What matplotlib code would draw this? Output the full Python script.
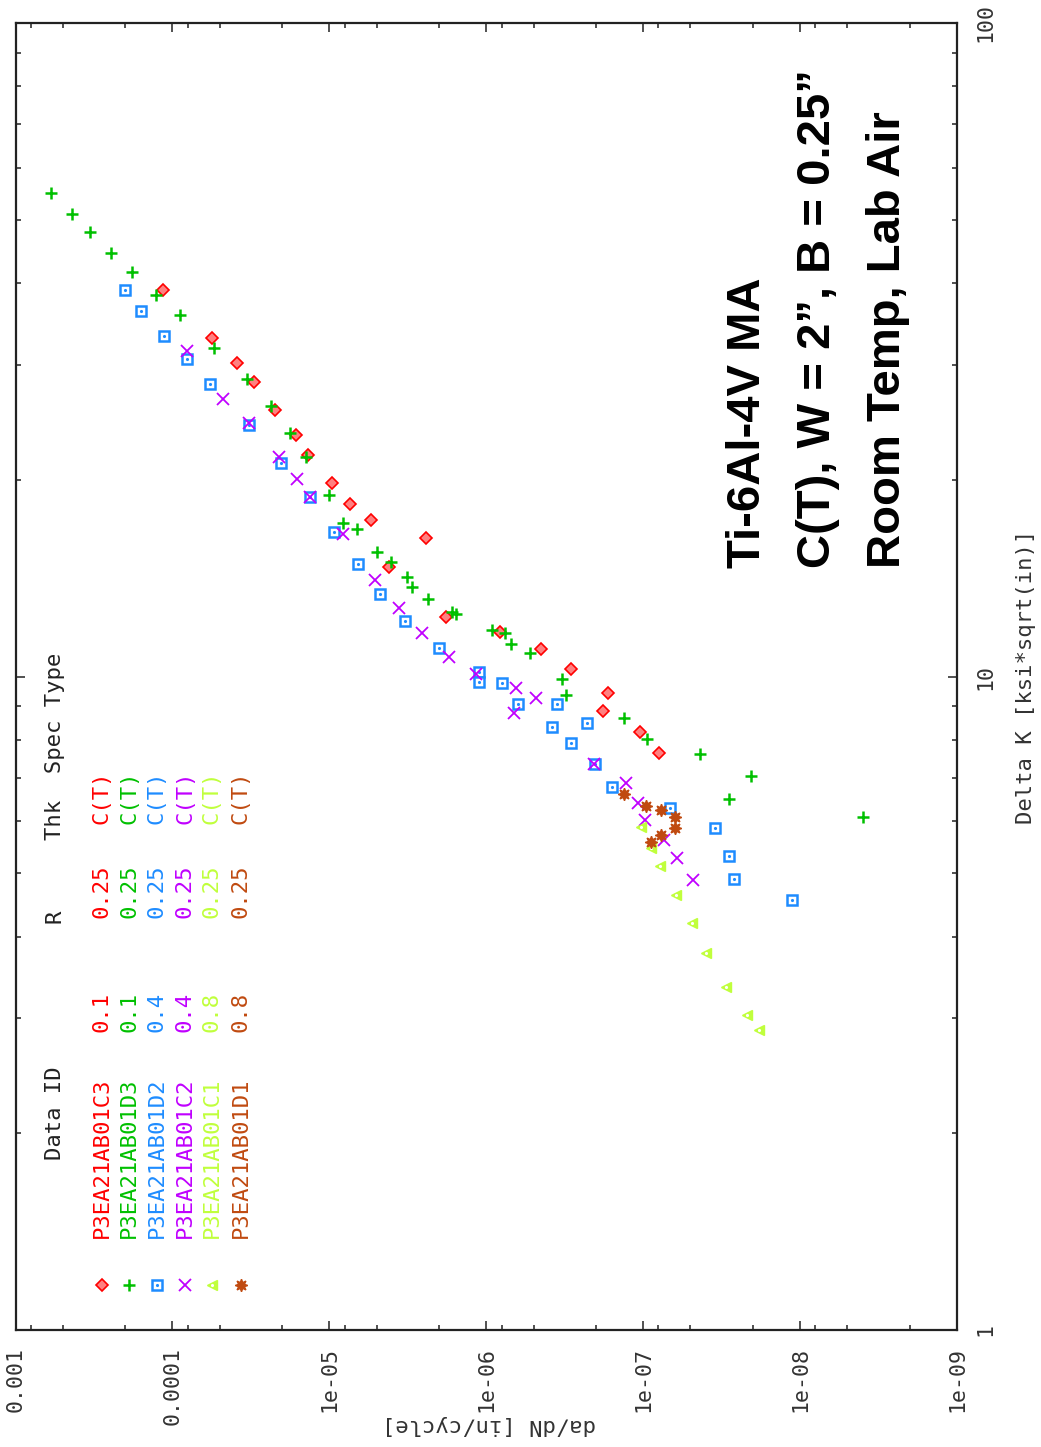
import matplotlib
matplotlib.use('Agg')
import matplotlib.pyplot as plt
from matplotlib.ticker import FixedLocator, FixedFormatter, LogLocator, NullFormatter

# Delta K [ksi*sqrt(in)] and da/dN [in/cycle] per specimen
c3_dk = [39.1, 33.0, 30.15, 28.26, 25.6, 23.4, 21.8, 19.75, 18.37, 17.36,
         16.27, 14.72, 12.32, 11.70, 11.02, 10.26, 9.45, 8.86, 8.23, 7.64]
c3_dadn = [1.146e-4, 5.64e-5, 3.87e-5, 3.03e-5, 2.23e-5, 1.644e-5, 1.367e-5, 9.61e-6, 7.34e-6, 5.45e-6,
           2.43e-6, 4.17e-6, 1.795e-6, 8.21e-7, 4.46e-7, 2.87e-7, 1.678e-7, 1.806e-7, 1.043e-7, 7.98e-8]

d3_dk = [54.9, 51.0, 47.9, 44.4, 41.6, 38.4, 35.7, 31.85, 28.5, 25.9,
         23.6, 21.65, 18.95, 17.2, 16.8, 15.5, 14.98, 14.18, 13.69, 13.15,
         12.53, 12.46, 11.76, 11.67, 11.2, 10.85, 9.91, 9.37, 8.65, 8.03,
         7.60, 7.05, 6.50, 6.09]
d3_dadn = [5.98e-4, 4.39e-4, 3.36e-4, 2.48e-4, 1.82e-4, 1.275e-4, 8.97e-5, 5.42e-5, 3.37e-5, 2.34e-5,
           1.79e-5, 1.413e-5, 1.004e-5, 8.18e-6, 6.66e-6, 4.94e-6, 4.02e-6, 3.20e-6, 2.97e-6, 2.34e-6,
           1.66e-6, 1.555e-6, 9.14e-7, 7.63e-7, 6.96e-7, 5.29e-7, 3.31e-7, 3.09e-7, 1.327e-7, 9.47e-8,
           4.37e-8, 2.07e-8, 2.82e-8, 3.99e-9]

d2_dk = [39.0, 36.3, 33.2, 30.6, 28.0, 24.3, 21.2, 18.8, 16.66, 14.86,
         13.37, 12.16, 11.04, 10.17, 9.82, 9.76, 9.07, 9.07, 8.36, 8.50,
         7.90, 7.35, 6.78, 6.30, 5.87, 5.31, 4.90, 4.55]
d2_dadn = [2.01e-4, 1.59e-4, 1.134e-4, 8.13e-5, 5.78e-5, 3.26e-5, 2.04e-5, 1.333e-5, 9.37e-6, 6.62e-6,
           4.78e-6, 3.28e-6, 2.0e-6, 1.118e-6, 1.113e-6, 7.94e-7, 6.28e-7, 3.55e-7, 3.79e-7, 2.28e-7,
           2.90e-7, 2.02e-7, 1.578e-7, 6.74e-8, 3.48e-8, 2.82e-8, 2.62e-8, 1.129e-8]

c2_dk = [31.5, 26.6, 24.4, 21.65, 20.05, 18.8, 16.5, 14.05, 12.74, 11.67,
         10.71, 10.09, 9.59, 9.28, 8.78, 7.35, 6.88, 6.40, 6.03, 5.62,
         5.27, 4.89]
c2_dadn = [8.13e-5, 4.75e-5, 3.27e-5, 2.10e-5, 1.606e-5, 1.333e-5, 8.18e-6, 5.09e-6, 3.61e-6, 2.56e-6,
           1.729e-6, 1.156e-6, 6.50e-7, 4.80e-7, 6.69e-7, 2.05e-7, 1.289e-7, 1.081e-7, 9.80e-8, 7.42e-8,
           6.10e-8, 4.82e-8]

c1_dk = [5.89, 5.46, 5.13, 4.63, 4.19, 3.77, 3.35, 3.03, 2.88]
c1_dadn = [1.028e-7, 8.88e-8, 7.86e-8, 6.15e-8, 4.87e-8, 4.00e-8, 2.96e-8, 2.17e-8, 1.83e-8]

d1_dk = [6.61, 6.34, 6.25, 6.10, 5.86, 5.72, 5.59]
d1_dadn = [1.327e-7, 9.56e-8, 7.75e-8, 6.31e-8, 6.31e-8, 7.67e-8, 8.88e-8]

data_ids = ['P3EA21AB01C3', 'P3EA21AB01D3', 'P3EA21AB01D2', 'P3EA21AB01C2', 'P3EA21AB01C1', 'P3EA21AB01D1']
r_values = ['0.1', '0.1', '0.4', '0.4', '0.8', '0.8']
thk_values = ['0.25'] * 6
spec_types = ['C(T)'] * 6

dadn_ticks = [1e-3, 1e-4, 1e-5, 1e-6, 1e-7, 1e-8, 1e-9]
dadn_labels = ['0.001', '0.0001', '1e-05', '1e-06', '1e-07', '1e-08', '1e-09']
dk_ticks = [1, 10, 100]
dk_labels = ['1', '10', '100']

colors = ['#ff0000', '#00c000', '#1e8cff', '#c000ff', '#c0ff3c', '#c04a10']

W, H = 1041, 1447
fig = plt.figure(figsize=(W / 100, H / 100), dpi=100)


def fx(px):
    return px / W


def fy(py):
    return 1 - py / H


ax = fig.add_axes([fx(15.6), fy(1330), fx(957) - fx(15.6), fy(23) - fy(1330)])
mono = 'DejaVu Sans Mono'

# chart is drawn turned on its side: da/dN across, Delta K up
series = [
    (c3_dadn, c3_dk, dict(marker='D', ms=6.3, mfc='#ff8080', mec=colors[0], mew=1.2)),
    (d3_dadn, d3_dk, dict(marker='+', ms=9, mec=colors[1], mew=1.8)),
    (d2_dadn, d2_dk, dict(marker='s', ms=7, mfc='white', mec=colors[2], mew=1.8)),
    (c2_dadn, c2_dk, dict(marker='x', ms=8, mec=colors[3], mew=1.3)),
    (c1_dadn, c1_dk, dict(marker='<', ms=7, mfc=colors[4], mec=colors[4], mew=1)),
    (d1_dadn, d1_dk, dict(marker=(8, 1, 0), ms=9, mfc=colors[5], mec=colors[5], mew=1)),
]
for xs, ys, st in series:
    ax.plot(xs, ys, linestyle='none', **st)
    if st['marker'] in ('s', '<'):
        ax.plot(xs, ys, linestyle='none', marker='.', ms=2.5, color='white' if st['marker'] == '<' else colors[2])

ax.set_xscale('log')
ax.set_yscale('log')
ax.set_xlim(1e-3, 1e-9)
ax.set_ylim(1, 100)

ax.xaxis.set_major_locator(FixedLocator(dadn_ticks))
ax.xaxis.set_major_formatter(FixedFormatter(dadn_labels))
ax.xaxis.set_minor_locator(LogLocator(base=10, subs=[2, 5, 8], numticks=20))
ax.xaxis.set_minor_formatter(NullFormatter())
ax.yaxis.set_major_locator(FixedLocator(dk_ticks))
ax.yaxis.set_major_formatter(FixedFormatter(dk_labels))
ax.yaxis.set_minor_locator(LogLocator(base=10, subs=range(2, 10), numticks=20))
ax.yaxis.set_minor_formatter(NullFormatter())

ax.tick_params(which='both', direction='in', top=True, bottom=True, left=True, right=True,
               labelleft=False, labelright=True, width=1.2, color='#333333')
ax.tick_params(which='major', length=6.5)
ax.tick_params(which='minor', length=3.5)
ax.tick_params(axis='x', pad=12, labelsize=15.5)
ax.tick_params(axis='y', pad=13, labelsize=15.5)
for lab in ax.get_xticklabels():
    lab.set_rotation(90)
    lab.set_fontfamily(mono)
    lab.set_color('#333333')
for lab in ax.get_yticklabels():
    lab.set_rotation(90)
    lab.set_fontfamily(mono)
    lab.set_va('center')
    lab.set_color('#333333')
for s in ax.spines.values():
    s.set_linewidth(1.6)
    s.set_color('#222222')

# axis titles
fig.text(fx(489), fy(1425), 'da/dN [in/cycle]', rotation=180, ha='center', va='center',
         fontsize=16, family=mono, color='#333333')
fig.text(fx(1026), fy(677), 'Delta K [ksi*sqrt(in)]', rotation=90, ha='center', va='center',
         fontsize=16, family=mono, color='#333333')

# key, written as columns like the original
kw = dict(rotation=90, rotation_mode='anchor', ha='left', va='center', fontsize=16, family=mono)
fig.text(fx(55), fy(1160), 'Data ID', color='#222222', **kw)
fig.text(fx(55), fy(923), 'R', color='#222222', **kw)
fig.text(fx(55), fy(840), 'Thk  Spec Type', color='#222222', **kw)
row_x = [101.7, 129.3, 156.7, 185, 211.7, 240.7]
for i, (_, _, st) in enumerate(series):
    px = row_x[i]
    fig.text(fx(px), fy(1238), data_ids[i], color=colors[i], **kw)
    fig.text(fx(px), fy(1032), r_values[i], color=colors[i], **kw)
    fig.text(fx(px), fy(918), thk_values[i], color=colors[i], **kw)
    fig.text(fx(px), fy(824), spec_types[i], color=colors[i], **kw)
    ax.plot([fx(px)], [fy(1285)], transform=fig.transFigure, linestyle='none', clip_on=False, **st)
    if st['marker'] in ('s', '<'):
        ax.plot([fx(px)], [fy(1285)], transform=fig.transFigure, linestyle='none', clip_on=False,
                marker='.', ms=2.5, color='white' if st['marker'] == '<' else colors[2])

# annotation block
tkw = dict(rotation=90, rotation_mode='anchor', ha='left', va='baseline', fontsize=34,
           family='Liberation Sans', fontweight='bold', color='black')
fig.text(fx(760), fy(568), 'Ti-6Al-4V MA', **tkw)
fig.text(fx(830), fy(568), 'C(T), W = 2\u201d, B = 0.25\u201d', **tkw)
fig.text(fx(900), fy(568), 'Room Temp, Lab Air', **tkw)

fig.savefig('out.png', dpi=100)
